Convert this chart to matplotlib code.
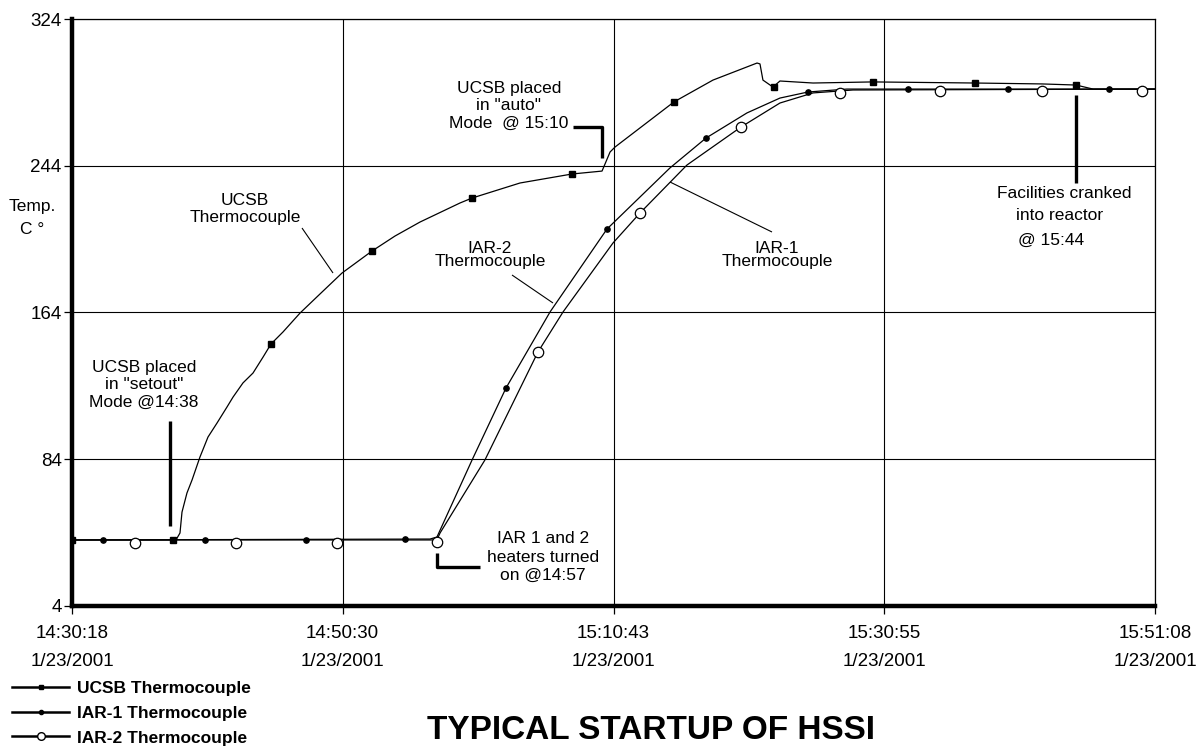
import matplotlib
matplotlib.use('Agg')
import matplotlib.pyplot as plt
from matplotlib.lines import Line2D

W, H = 1201, 748
plt.rcParams['font.family'] = ['Liberation Sans', 'DejaVu Sans']

# ---- data: time in minutes after 14:00 (1/23/2001), temperature in deg C ----
ucsb_t = [30.30, 38.06, 38.36, 38.51, 38.88, 39.26, 39.85, 40.45, 41.12, 41.87,
          42.32, 43.06, 43.81, 44.56, 45.15, 46.05, 47.32, 48.81, 50.45, 52.69,
          54.41, 56.27, 59.26, 60.16, 63.74, 67.62, 69.86, 70.46, 70.83, 75.23,
          78.14, 81.43, 81.65, 81.87, 82.62, 83.14, 85.61, 90.08, 97.70, 102.70,
          105.24, 106.51, 111.13]
ucsb_v = [40.0, 40.0, 43.8, 55.2, 65.6, 72.7, 85.2, 96.1, 103.7, 112.5,
          117.9, 125.6, 131.0, 139.7, 146.8, 153.4, 163.7, 174.1, 185.5, 197.5,
          205.7, 213.3, 223.7, 226.4, 234.6, 239.5, 241.1, 251.5, 254.2, 278.8,
          290.7, 300.0, 299.5, 290.7, 286.9, 290.2, 289.1, 289.7, 289.1, 288.6,
          288.0, 285.8, 285.8]
ucsb_mark_t = [30.30, 37.84, 45.15, 52.69, 60.16, 67.62, 75.23, 82.70, 90.08, 97.70, 105.24]
ucsb_mark_v = [40.0, 40.0, 146.8, 197.5, 226.4, 239.5, 278.8, 287.0, 289.7, 289.1, 288.0]

iar1_t = [30.30, 57.02, 57.54, 60.16, 62.69, 65.98, 70.23, 74.93, 77.62, 80.68,
          83.14, 85.23, 88.14, 111.13]
iar1_v = [40.0, 40.5, 41.6, 83.6, 122.8, 164.3, 209.5, 242.8, 259.1, 272.8,
          280.9, 284.2, 285.8, 285.8]
iar1_mark_t = [32.61, 40.23, 47.77, 55.15, 62.69, 70.23, 77.62, 85.23, 92.70, 100.16, 107.70]
iar1_mark_v = [40.0, 40.0, 40.0, 40.5, 122.8, 209.5, 259.1, 284.2, 285.8, 285.8, 285.8]

iar2_t = [30.30, 57.54, 57.77, 61.12, 65.08, 66.95, 70.68, 72.69, 76.20, 80.23,
          83.14, 85.61, 88.59, 111.13]
iar2_v = [40.0, 40.0, 43.8, 83.6, 142.5, 164.3, 201.9, 218.2, 244.4, 265.1,
          278.2, 283.7, 285.3, 285.8]
iar2_mark_t = [34.99, 42.54, 50.08, 57.54, 65.08, 72.69, 80.23, 87.62, 95.09, 102.70, 110.16]
iar2_mark_v = [38.5, 38.5, 38.5, 39.0, 142.5, 218.2, 265.1, 283.7, 284.7, 284.7, 284.7]

x_ticks = [30.30, 50.50, 70.717, 90.917, 111.133]
x_tick_labels = ['14:30:18\n1/23/2001', '14:50:30\n1/23/2001', '15:10:43\n1/23/2001',
                 '15:30:55\n1/23/2001', '15:51:08\n1/23/2001']
y_ticks = [4, 84, 164, 244, 324]
series_names = ['UCSB Thermocouple', 'IAR-1 Thermocouple', 'IAR-2 Thermocouple']
title_text = 'TYPICAL STARTUP OF HSSI'

# ---- figure ----
fig = plt.figure(figsize=(W / 100, H / 100), dpi=100)
fig.patch.set_facecolor('white')
ax = fig.add_axes([72 / W, 1 - 606 / H, (1155 - 72) / W, (606 - 19) / H])

def P(x, y):
    return (x / W, 1 - y / H)

ax.set_xlim(x_ticks[0], x_ticks[-1])
ax.set_ylim(y_ticks[0], y_ticks[-1])
ax.set_xticks(x_ticks)
ax.set_xticklabels(x_tick_labels, linespacing=1.8)
ax.set_yticks(y_ticks)
ax.set_yticklabels([str(v) for v in y_ticks])
ax.grid(True, color='black', lw=0.8)
ax.set_axisbelow(True)
for s in ['top', 'right']:
    ax.spines[s].set_linewidth(0.9)
for s in ['left', 'bottom']:
    ax.spines[s].set_linewidth(3.2)
ax.tick_params(axis='both', direction='out', length=6, width=0.9, colors='black',
               labelsize=13.5)
ax.tick_params(axis='y', pad=1.5)
ax.tick_params(axis='x', pad=8)

ax.plot(ucsb_t, ucsb_v, color='black', lw=0.9, zorder=3)
ax.plot(ucsb_mark_t, ucsb_mark_v, ls='none', marker='s', ms=4.2, color='black', zorder=4)
ax.plot(iar1_t, iar1_v, color='black', lw=0.9, zorder=3)
ax.plot(iar1_mark_t, iar1_mark_v, ls='none', marker='o', ms=3.8, color='black', zorder=4)
ax.plot(iar2_t, iar2_v, color='black', lw=0.9, zorder=3)
ax.plot(iar2_mark_t, iar2_mark_v, ls='none', marker='o', ms=7.5, mfc='white',
        mec='black', mew=0.9, zorder=4)

# ---- annotations ----
tf = fig.transFigure
fs = 12.5

def txt(x, y, s, **kw):
    fig.text(*P(x, y), s, ha='center', va='center', fontsize=fs, transform=tf, **kw)

def seg(xs, ys, lw):
    pts = [P(x, y) for x, y in zip(xs, ys)]
    fig.add_artist(Line2D([p[0] for p in pts], [p[1] for p in pts], color='black',
                          lw=lw, transform=tf, solid_capstyle='butt'))

txt(245, 209, 'UCSB\nThermocouple', linespacing=1.15)
seg([302, 333], [228, 273], 0.8)

txt(144, 385, 'UCSB placed\nin "setout"\nMode @14:38', linespacing=1.2)
seg([170, 170], [421, 526], 2.4)

txt(509, 106, 'UCSB placed\nin "auto"\nMode  @ 15:10', linespacing=1.2)
seg([573, 602, 602], [127, 127, 158], 2.4)

txt(490, 255, 'IAR-2\nThermocouple', linespacing=0.9)
seg([512, 553], [275, 303], 0.8)

txt(777, 255, 'IAR-1\nThermocouple', linespacing=0.9)
seg([670, 772], [182, 232], 0.8)

txt(1064, 193, 'Facilities cranked')
txt(1060, 215, 'into reactor')
txt(1051, 240, '@ 15:44')
seg([1076, 1076], [95, 183], 2.4)

txt(543, 557, 'IAR 1 and 2\nheaters turned\non @14:57', linespacing=1.3)
seg([437, 437, 480], [553, 567, 567], 2.4)

# axis label
txt(32, 206, 'Temp.')
txt(32, 229, 'C °')

# ---- legend ----
handles = [
    Line2D([], [], color='black', lw=1.8, marker='s', ms=3.5),
    Line2D([], [], color='black', lw=1.8, marker='o', ms=3.0),
    Line2D([], [], color='black', lw=1.8, marker='o', ms=5.5, mfc='white', mec='black'),
]
fig.legend(handles, series_names, loc='upper left', bbox_to_anchor=P(12, 681),
           frameon=False, prop={'weight': 'bold', 'size': 12.5}, handlelength=3.3,
           handletextpad=0.45, labelspacing=0.55, borderpad=0, borderaxespad=0)

fig.text(*P(427, 746), title_text, ha='left', va='bottom', fontsize=24,
         fontweight='bold', transform=tf)

fig.savefig('out.png', dpi=100, facecolor='white')
